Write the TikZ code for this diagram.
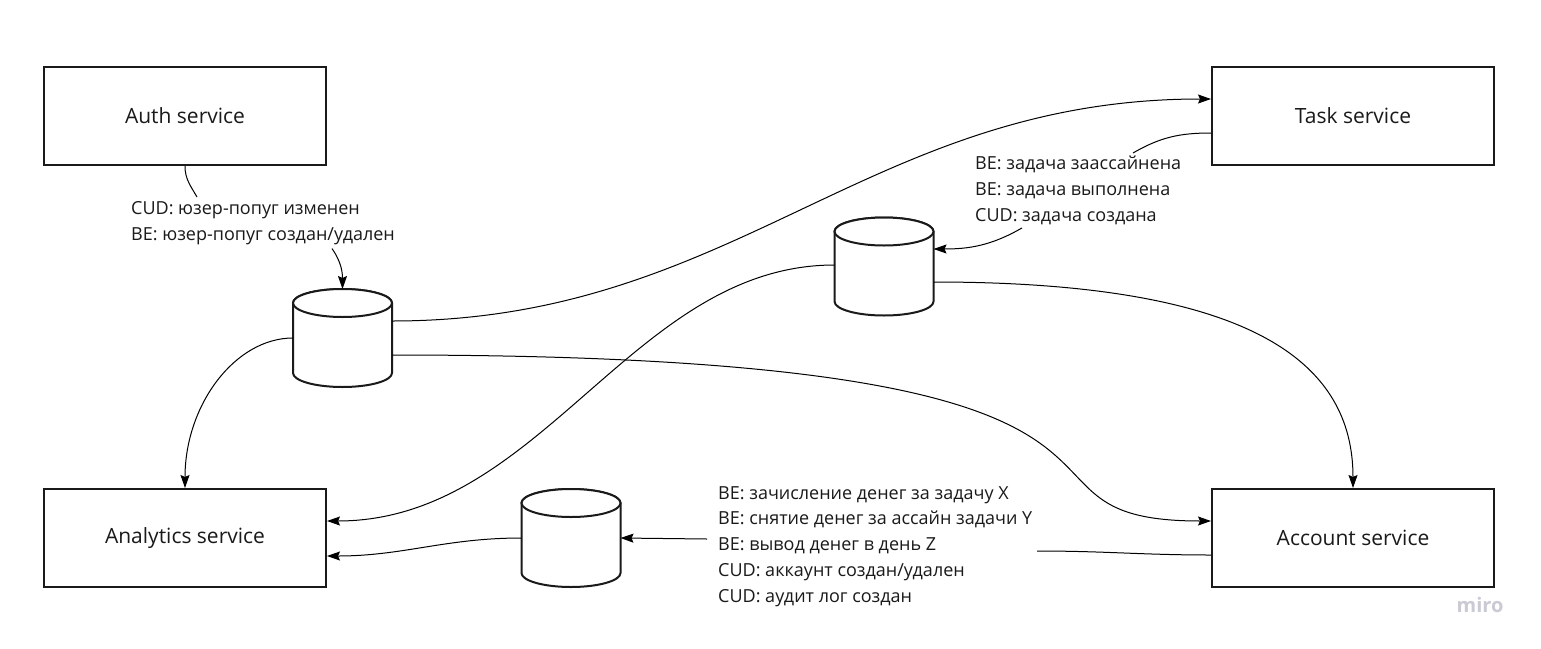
\documentclass[tikz,border=0pt]{standalone}
\usepackage{fontspec}
\setmainfont{Open Sans}
\usetikzlibrary{arrows.meta}
\definecolor{ink}{HTML}{1A1A1A}
\definecolor{wm}{HTML}{C9CAD3}
\newcommand\dbcyl[3]{%
  \node[cylbox] (#1) at (#2,#3) {};
  \path[cylline] ([yshift=-14pt]#1.north west) -- ([yshift=14pt]#1.south west)
     arc[start angle=180,end angle=360,x radius=49.5pt,y radius=14pt]
     -- ([yshift=-14pt]#1.north east)
     arc[start angle=0,end angle=180,x radius=49.5pt,y radius=14pt] -- cycle;
  \draw[cylline] ([yshift=-14pt]#1.north) ellipse[x radius=49.5pt,y radius=14pt];
}
\begin{document}
\begin{tikzpicture}[x=1pt,y=-1pt,
  svc/.style={draw=ink, line width=2pt, minimum width=282pt, minimum height=98pt, inner sep=0pt,
    font=\fontsize{21}{24}\selectfont, text=ink},
  lbl/.style={align=left, inner sep=0pt, font=\fontsize{18}{25.8}\selectfont, text=ink, anchor=north west},
  conn/.style={line width=1pt, black},
  arr/.style={conn, -{Stealth[length=13pt,width=9pt,inset=2pt]}},
  cylbox/.style={minimum width=99pt, minimum height=98pt, inner sep=0pt, outer sep=0pt},
  cylline/.style={draw=ink, line width=2pt, fill=white},
]
\fill[white] (0,0) rectangle (1541,648);
\useasboundingbox (0,0) rectangle (1541,648);

% services
\node[svc] (auth) at (185,116) {Auth service};
\node[svc] (task) at (1353,116) {Task service};
\node[svc] (anal) at (185,538) {Analytics service};
\node[svc] (acc) at (1353,538) {Account service};

% databases
\dbcyl{cyl1}{342.5}{338}
\dbcyl{cyl2}{884}{266.5}
\dbcyl{cyl3}{571}{538}

% labels
\node[lbl] (lblA) at (131,201) {CUD: юзер-попуг изменен\\BE: юзер-попуг создан/удален};
\node[lbl] (lblT) at (975,156) {BE: задача заассайнена\\BE: задача выполнена\\CUD: задача создана};
\node[lbl] (lblAcc) at (718,486) {BE: зачисление денег за задачу X\\BE: снятие денег за ассайн задачи Y\\BE: вывод денег в день Z\\CUD: аккаунт создан/удален\\CUD: аудит лог создан};

\node[text=wm, font=\fontsize{20}{24}\selectfont\bfseries, inner sep=0pt] (wmark) at (1480,605) {miro};

% connectors
\draw[conn] (auth.south) to[out=-90,in=120] ([xshift=66pt,yshift=4pt]lblA.north west);
\draw[arr] ([xshift=201pt,yshift=-4pt]lblA.south west) to[out=-55,in=90] (cyl1.north);
\draw[arr] ([yshift=17pt]cyl1.east) to[out=0,in=180,out distance=344pt,in distance=344pt] ([yshift=17pt]task.west);
\draw[arr] ([yshift=-17pt]cyl1.east) to[out=0,in=180,out distance=866pt,in distance=247pt] ([yshift=17pt]acc.west);
\draw[arr] (cyl1.west) to[out=180,in=90,out distance=58pt,in distance=83pt] (anal.north);

\draw[conn] ([yshift=-17pt]task.west) to[out=180,in=30] ([xshift=158pt,yshift=3pt]lblT.north west);
\draw[arr] ([xshift=47pt,yshift=-3pt]lblT.south west) to[out=-150,in=0] ([yshift=17.5pt]cyl2.east);
\draw[arr] ([yshift=1.5pt]cyl2.west) to[out=180,in=0,out distance=202pt,in distance=215pt] ([yshift=17pt]anal.east);
\draw[arr] ([yshift=-15.5pt]cyl2.east) to[out=0,in=90,out distance=320pt,in distance=125pt] (acc.north);

\draw[conn] ([yshift=-17pt]acc.west) to[out=180,in=0] ([xshift=319pt,yshift=-65pt]lblAcc.north west);
\draw[arr] ([xshift=-11pt,yshift=-53pt]lblAcc.north west) -- (cyl3.east);
\draw[arr] (cyl3.west) to[out=180,in=0] ([yshift=-18pt]anal.east);
\end{tikzpicture}
\end{document}
